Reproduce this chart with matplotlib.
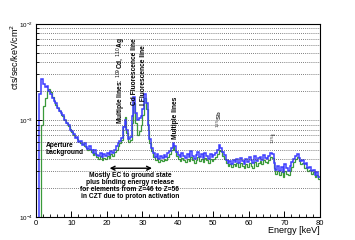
import numpy as np
import matplotlib
matplotlib.use("Agg")
import matplotlib.pyplot as plt
from matplotlib.ticker import LogLocator, MultipleLocator, NullFormatter

plt.rcParams['font.family'] = ['Liberation Sans', 'DejaVu Sans']

# bin edges: 0.5 keV bins from 0 to 80 keV
edges = np.arange(0, 80.5, 0.5)

# spectra in units of 1e-4 cts/sec/keV/cm^2
blue_vals = [
    0.5, 0.5, 19, 27, 24, 22, 23, 20, 19, 17,
    16, 15, 13.5, 12.5, 12, 11.5, 10, 9.5, 9, 8,
    7.8, 7.2, 6.6, 6.8, 6.0, 6.2, 5.6, 5.9, 5.3, 5.1,
    5.4, 4.9, 4.6, 5.0, 4.4, 4.3, 4.6, 4.2, 4.5, 4.3,
    4.6, 4.4, 4.8, 4.6, 5.0, 5.4, 5.8, 6.2, 6.6, 8.5,
    10, 8, 6.5, 6.8, 11, 17.5, 12, 10, 10.5, 11,
    13, 19, 15, 9, 6.5, 5.2, 4.6, 4.2, 4.5, 4.0,
    4.3, 4.1, 4.4, 4.2, 4.6, 4.8, 5.2, 5.9, 5.5, 4.7,
    4.4, 4.2, 4.6, 4.3, 4.1, 4.5, 4.2, 4.8, 4.3, 4.0,
    4.4, 4.7, 4.2, 4.5, 4.1, 4.6, 4.3, 4.0, 4.5, 4.2,
    4.4, 4.6, 4.9, 5.6, 5.2, 4.7, 4.4, 3.9, 3.6, 3.8,
    3.5, 3.9, 3.7, 4.0, 3.6, 4.1, 3.8, 3.5, 4.0, 3.7,
    4.2, 3.9, 3.6, 4.3, 3.8, 4.1, 4.2, 3.9, 4.4, 4.1,
    4.0, 4.3, 4.6, 4.5, 3.6, 3.1, 3.4, 3.0, 3.3, 2.9,
    3.5, 3.2, 3.0, 3.4, 3.7, 4.0, 4.3, 4.5, 4.1, 3.8,
    3.9, 3.5, 3.6, 3.2, 3.3, 3.0, 3.1, 2.7, 2.9, 2.6,
]
green_vals = [
    0.5, 0.5, 0.5, 9, 14, 17, 20, 21, 19.5, 17.5,
    16, 14.5, 13.5, 12.5, 11.5, 11, 10, 9.5, 8.8, 8.2,
    7.6, 7.0, 6.8, 6.4, 6.1, 5.8, 5.7, 5.5, 5.2, 4.9,
    5.1, 4.7, 4.4, 4.6, 4.2, 4.0, 4.3, 3.9, 4.1, 4.0,
    4.3, 4.1, 4.5, 4.3, 4.7, 5.0, 5.5, 5.8, 6.3, 8.8,
    10.8, 7.5, 6.0, 6.3, 9.5, 15, 9.5, 7.0, 7.8, 9.0,
    11.5, 17, 13, 8.0, 5.8, 4.8, 4.2, 3.9, 4.1, 3.7,
    3.9, 3.8, 4.0, 3.9, 4.2, 4.5, 4.9, 5.6, 5.0, 4.3,
    4.0, 3.8, 4.1, 3.9, 3.7, 4.0, 3.8, 4.2, 3.9, 3.6,
    3.9, 4.2, 3.8, 4.0, 3.7, 4.1, 3.9, 3.6, 4.0, 3.8,
    4.0, 4.2, 4.5, 5.0, 4.8, 4.3, 4.0, 3.6, 3.4, 3.5,
    3.3, 3.5, 3.4, 3.6, 3.3, 3.6, 3.4, 3.2, 3.5, 3.3,
    3.6, 3.4, 3.2, 3.7, 3.4, 3.6, 3.8, 3.5, 3.9, 3.7,
    3.6, 3.9, 4.2, 4.1, 3.2, 2.8, 3.0, 2.7, 2.9, 2.6,
    3.0, 2.8, 2.7, 3.0, 3.3, 3.7, 4.0, 4.2, 3.8, 3.5,
    3.6, 3.2, 3.3, 3.0, 3.1, 2.8, 2.9, 2.6, 2.7, 2.5,
]

blue = np.array(blue_vals) * 1e-4
green = np.array(green_vals) * 1e-4

fig = plt.figure(figsize=(3.55, 2.4), dpi=100)
ax = fig.add_axes([0.101, 0.096, 0.8, 0.804])

ax.stairs(green, edges, baseline=None, color='#3a9a3a', lw=0.9)
ax.stairs(blue, edges, baseline=None, color='#3c3cff', lw=1.1)

ax.set_yscale('log')
ax.set_xlim(0, 80)
ax.set_ylim(1e-4, 1e-2)

ax.yaxis.set_major_locator(LogLocator(base=10, numticks=5))
ax.yaxis.set_minor_locator(LogLocator(base=10, subs=np.arange(2, 10), numticks=20))
ax.yaxis.set_minor_formatter(NullFormatter())
ax.xaxis.set_major_locator(MultipleLocator(10))
ax.xaxis.set_minor_locator(MultipleLocator(2))
ax.grid(True, which='both', axis='y', ls=(0, (1, 1.5)), color='#555555', lw=0.6)
ax.tick_params(which='both', direction='in', top=False, right=False, pad=2)
ax.tick_params(axis='y', labelsize=4.5)
ax.tick_params(axis='x', labelsize=5.5)
ax.tick_params(which='major', length=4, width=0.7)
ax.tick_params(which='minor', length=2, width=0.6)
for sp in ax.spines.values():
    sp.set_linewidth(0.8)

ax.set_ylabel('cts/sec/keV/cm$^2$', fontsize=6.5, loc='top')
ax.yaxis.set_label_coords(-0.052, 1.0)
ax.set_xlabel('Energy [keV]', fontsize=6.5, loc='right')
ax.xaxis.set_label_coords(1.0, -0.045)

bold = dict(fontsize=4.8, fontweight='bold', color='black')
ax.text(2.7, 5.1e-4, 'Aperture\nbackground', ha='left', va='center',
        linespacing=0.95, **bold)
ax.annotate('', xy=(20, 3.2e-4), xytext=(33.5, 3.2e-4),
            arrowprops=dict(arrowstyle='<->', lw=1.0, color='black',
                            mutation_scale=7))
ax.text(26.5, 2.95e-4, 'Mostly EC to ground state\nplus binding energy release\n'
        'for elements from Z=46 to Z=56\nin CZT due to proton activation',
        ha='center', va='top', linespacing=1.0, **bold)

ax.text(24.1, 9.3e-4, 'Multiple lines: $^{109}$Cd, $^{110}$Ag', rotation=90,
        ha='center', va='bottom', **bold)
ax.text(27.8, 1.45e-3, 'Cd Fluorescence line', rotation=90,
        ha='center', va='bottom', **bold)
ax.text(30.3, 1.45e-3, 'I Fluorescence line', rotation=90,
        ha='center', va='bottom', **bold)
ax.text(39.3, 6.5e-4, 'Multiple lines', rotation=90,
        ha='center', va='bottom', **bold)
ax.text(51.7, 8.3e-4, '$^{125}$Sb', rotation=90, ha='center', va='bottom',
        fontsize=4.5, fontweight='bold', color='#333333')
ax.text(67.2, 5.7e-4, '$^{125}$I', rotation=90, ha='center', va='bottom',
        fontsize=4.5, fontweight='bold', color='#333333')

fig.savefig('out.png', dpi=100)
